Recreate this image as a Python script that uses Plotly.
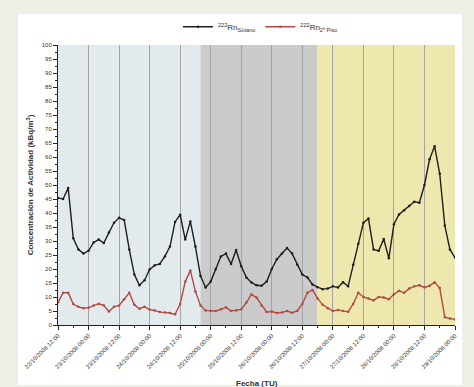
import datetime as dt
import plotly.graph_objects as go

# Sampling: every 2 hours starting 22/10/2008 12:00
start = dt.datetime(2008, 10, 22, 12, 0)
hours = list(range(0, 157, 2))
fechas = [start + dt.timedelta(hours=h) for h in hours]

rn_sotano = [
    45.4, 45.0, 48.9, 31.0, 27.0, 25.5, 26.5, 29.5, 30.5, 29.3,
    33.0, 36.5, 38.3, 37.5, 27.0, 18.0, 14.2, 16.0, 19.8, 21.3,
    21.8, 24.5, 28.0, 36.8, 39.4, 30.5, 37.0, 28.0, 17.5, 13.4,
    15.5, 20.0, 24.5, 25.5, 21.8, 26.8, 21.0, 17.0, 15.2, 14.2,
    14.0, 15.5, 20.0, 23.5, 25.5, 27.5, 25.5, 21.5, 18.0, 17.0,
    14.5, 13.5, 12.8, 13.0, 13.8, 13.4, 15.3, 13.8, 21.5, 29.0,
    36.5, 38.0, 27.0, 26.5, 30.7, 23.8, 36.0, 39.5, 41.0, 42.5,
    44.0, 43.7, 50.0, 59.2, 63.8, 54.0, 35.5, 27.0, 24.1,
]

rn_2piso = [
    8.0, 11.5, 11.5, 7.5, 6.5, 6.0, 6.2, 7.0, 7.6, 7.0,
    4.8, 6.5, 7.0, 9.2, 11.5, 7.2, 5.8, 6.5, 5.5, 5.2,
    4.6, 4.5, 4.3, 3.8, 7.5, 15.5, 19.5, 12.0, 7.0, 5.2,
    5.0, 5.0, 5.6, 6.3, 5.0, 5.2, 5.6, 8.0, 10.9, 9.8,
    7.0, 4.6, 4.8, 4.3, 4.5, 5.0, 4.4, 5.0, 7.5, 11.5,
    12.5, 9.5, 7.2, 6.0, 5.0, 5.4, 5.0, 4.7, 7.5, 11.5,
    10.0, 9.5, 8.8, 10.0, 9.8, 9.2, 11.0, 12.2, 11.5, 13.0,
    13.8, 14.2, 13.4, 14.0, 15.3, 13.2, 2.8, 2.3, 2.0,
]

# Background periods (start, end, colour)
periodos_ini = [dt.datetime(2008, 10, 22, 12), dt.datetime(2008, 10, 24, 20), dt.datetime(2008, 10, 26, 18)]
periodos_fin = [dt.datetime(2008, 10, 24, 20), dt.datetime(2008, 10, 26, 18), dt.datetime(2008, 10, 29, 0)]
periodos_color = ["#e3eaed", "#cbcbcb", "#eee8af"]

x_ini = dt.datetime(2008, 10, 22, 12)
x_fin = dt.datetime(2008, 10, 29, 0)

fig = go.Figure()

fig.add_trace(go.Scatter(
    x=fechas, y=rn_sotano, mode="lines+markers",
    name="<sup>222</sup>Rn<sub>Sótano</sub>",
    line=dict(color="#1e1e1e", width=1.4),
    marker=dict(size=2.5, color="#1e1e1e"),
))
fig.add_trace(go.Scatter(
    x=fechas, y=rn_2piso, mode="lines+markers",
    name="<sup>222</sup>Rn<sub>2º Piso</sub>",
    line=dict(color="#b04a42", width=1.4),
    marker=dict(size=2.5, color="#b04a42"),
))

shapes = [
    # white panel behind the chart
    dict(type="rect", xref="paper", yref="paper", layer="below",
         x0=-40 / 397, x1=404 / 397, y0=-62 / 290, y1=322 / 290,
         fillcolor="white", line=dict(width=0)),
]
for a, b, c in zip(periodos_ini, periodos_fin, periodos_color):
    shapes.append(dict(type="rect", xref="x", yref="y", layer="below",
                       x0=a, x1=b, y0=0, y1=100,
                       fillcolor=c, line=dict(width=0)))

fig.update_layout(
    width=474, height=387,
    margin=dict(l=58, r=19, t=35, b=62),
    paper_bgcolor="#efefe8",
    plot_bgcolor="white",
    font=dict(family="Liberation Sans, Arial, sans-serif", color="#333333"),
    shapes=shapes,
    showlegend=True,
    legend=dict(orientation="h", x=0.51, xanchor="center", y=1.065, yanchor="middle",
                font=dict(size=8, color="#333333"), bgcolor="rgba(0,0,0,0)",
                itemwidth=30, tracegroupgap=0),
    annotations=[
        dict(text="<b>Fecha (TU)</b>", xref="paper", yref="paper",
             x=0.5, y=-0.21, xanchor="center", yanchor="middle",
             showarrow=False, font=dict(size=8, color="#333333")),
    ],
)

fig.update_xaxes(
    type="date", range=[x_ini, x_fin],
    tick0=x_ini, dtick=12 * 3600 * 1000,
    tickformat="%d/%m/%Y %H:%M", tickangle=-45,
    tickfont=dict(size=6, color="#333333"),
    ticks="outside", ticklen=4, tickcolor="#222222", tickwidth=1,
    minor=dict(ticks="outside", ticklen=2, dtick=6 * 3600 * 1000, tickcolor="#222222"),
    showgrid=True, gridcolor="#a4a4a4", gridwidth=1,
    showline=True, linecolor="#222222", linewidth=1,
    zeroline=False,
)
fig.update_yaxes(
    range=[0, 100], dtick=5,
    tickfont=dict(size=6, color="#333333"),
    ticks="outside", ticklen=4, tickcolor="#222222", tickwidth=1,
    minor=dict(ticks="outside", ticklen=2, dtick=2.5, tickcolor="#222222"),
    showgrid=False,
    showline=True, linecolor="#222222", linewidth=1,
    zeroline=False,
    title=dict(text="<b>Concentración de Actividad (kBq/m<sup>3</sup>)</b>",
               font=dict(size=8, color="#333333"), standoff=6),
)

fig.write_html("out.html")
